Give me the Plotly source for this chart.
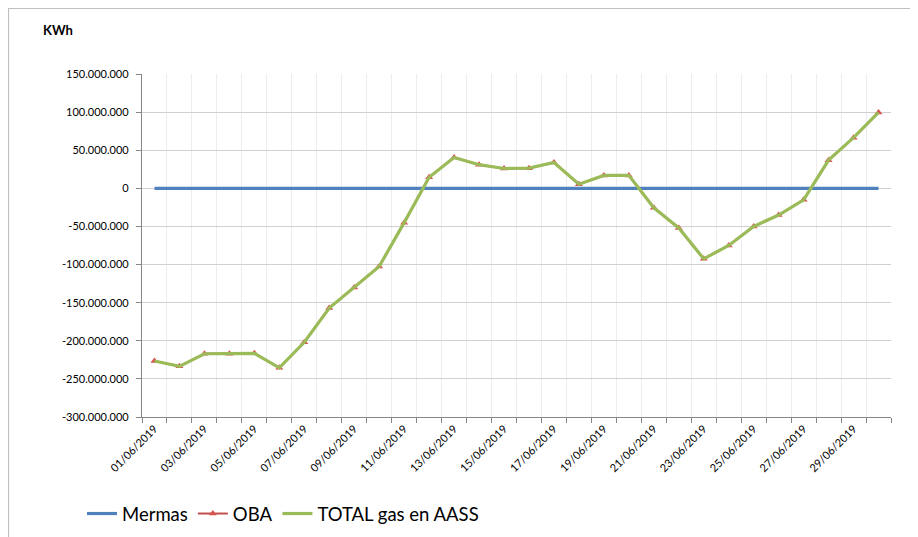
import plotly.graph_objects as go

dates = [f"{d:02d}/06/2019" for d in range(1, 31)]
mermas = [0] * 30
oba = [-226.5e6, -233.5e6, -217e6, -217e6, -216.5e6, -235.5e6, -202e6, -157e6, -130e6,
       -102.5e6, -45e6, 14.5e6, 40.5e6, 31e6, 26e6, 26.5e6, 34e6, 5.5e6, 17e6, 17e6,
       -25.5e6, -52e6, -92.5e6, -75e6, -50e6, -35e6, -15e6, 37e6, 66.5e6, 99.5e6]
total = list(oba)
y_ticks = [150e6, 100e6, 50e6, 0, -50e6, -100e6, -150e6, -200e6, -250e6, -300e6]
y_labels = ["150.000.000", "100.000.000", "50.000.000", "0", "-50.000.000", "-100.000.000",
            "-150.000.000", "-200.000.000", "-250.000.000", "-300.000.000"]

x = list(range(len(dates)))

fig = go.Figure()
fig.add_trace(go.Scatter(x=x, y=mermas, name="Mermas", mode="lines",
                         line=dict(color="#4F81BD", width=3.2)))
fig.add_trace(go.Scatter(x=x, y=oba, name="OBA", mode="lines+markers",
                         line=dict(color="#C0504D", width=2),
                         marker=dict(symbol="triangle-up", size=7, color="#D9534F",
                                     line=dict(width=0))))
fig.add_trace(go.Scatter(x=x, y=total, name="TOTAL gas en AASS", mode="lines",
                         line=dict(color="#9BBB59", width=3.2)))

# page body has an 8px offset; figure coordinates below are page coordinates minus 8
OFF = 8
W, H = 918 - OFF, 537 - OFF
L, T = 142 - OFF, 74 - OFF
R = W - (891 - OFF)
B = H - (417 - OFF)
pw, ph = W - L - R, H - T - B

def px(v):
    return (v - OFF - L) / pw

def py(v):
    return (H - B - (v - OFF)) / ph

fig.add_shape(type="rect", xref="paper", yref="paper",
              x0=px(8.5), x1=px(917), y0=py(560), y1=py(8.5),
              line=dict(color="#BFBFBF", width=1.2), fillcolor="rgba(0,0,0,0)", layer="below")

fig.update_layout(
    width=W, height=H,
    margin=dict(l=L, r=R, t=T, b=B, autoexpand=False),
    paper_bgcolor="white", plot_bgcolor="white",
    font=dict(family="Lato", size=11, color="#000000"),
    showlegend=True,
    legend=dict(orientation="h", x=px(82), y=py(514), xanchor="left", yanchor="middle",
                font=dict(size=18.5, color="#000000"), itemwidth=30,
                traceorder="normal", bgcolor="rgba(0,0,0,0)"),
    annotations=[dict(text="<b>KWh</b>", xref="paper", yref="paper",
                      x=px(41), y=py(30), xanchor="left", yanchor="middle",
                      showarrow=False, font=dict(size=13, color="#000000"))],
)

fig.update_xaxes(
    range=[-0.5, len(dates) - 0.5],
    tickmode="array", tickvals=x[::2], ticktext=dates[::2],
    tickangle=-45, showgrid=False, ticks="", zeroline=False,
    showline=True, linecolor="#868686", linewidth=1.3,
    tickfont=dict(size=11),
    minor=dict(tickmode="linear", tick0=-0.5, dtick=1, showgrid=True,
               gridcolor="#EDEDED", gridwidth=1, ticks="outside", ticklen=5,
               tickcolor="#868686", tickwidth=1),
)
fig.update_yaxes(
    range=[-300e6, 150e6],
    tickmode="array", tickvals=y_ticks, ticktext=y_labels,
    showgrid=True, gridcolor="#D0D0D0", gridwidth=1.2, zeroline=False,
    showline=True, linecolor="#868686", linewidth=1.3,
    ticks="outside", ticklen=5, tickcolor="#868686",
    ticklabelstandoff=5,
    tickfont=dict(size=11),
)

fig.write_html("out.html")
